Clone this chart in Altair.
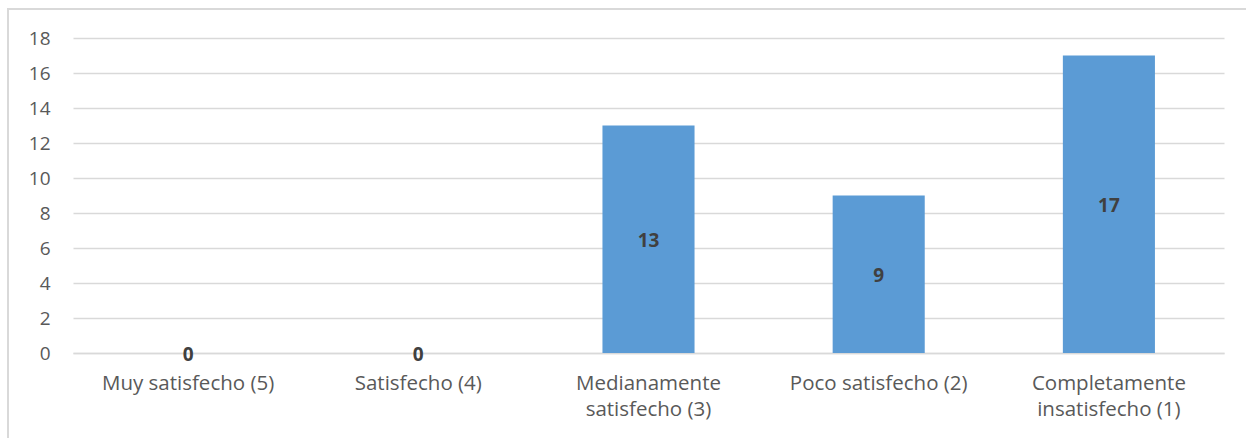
import altair as alt
import pandas as pd

categories = ["Muy satisfecho (5)", "Satisfecho (4)", "Medianamente satisfecho (3)",
              "Poco satisfecho (2)", "Completamente insatisfecho (1)"]
values = [0, 0, 13, 9, 17]
y_ticks = [0, 2, 4, 6, 8, 10, 12, 14, 16, 18]

df = pd.DataFrame({"cat": categories, "val": values, "half": [v / 2 for v in values]})

label_expr = ("datum.value == 'Medianamente satisfecho (3)' ? ['Medianamente','satisfecho (3)'] : "
              "datum.value == 'Completamente insatisfecho (1)' ? ['Completamente','insatisfecho (1)'] : datum.value")

FONT = "Open Sans"

x_axis = alt.Axis(labelAngle=0, labelFont=FONT, labelFontSize=20.5, labelColor="#595959",
                  labelExpr=label_expr, labelPadding=20, ticks=False,
                  domainColor="#d9d9d9", domainWidth=1.5, labelLineHeight=26)
y_axis = alt.Axis(values=y_ticks, labelFont=FONT, labelFontSize=19,
                  labelColor="#595959", labelPadding=23, ticks=False, domain=False,
                  gridColor="#d9d9d9", gridWidth=1.5, labelOverlap=False)
x_scale = alt.Scale(paddingInner=0.6, paddingOuter=0.3)
y_scale = alt.Scale(domain=[0, 18])

bars = alt.Chart(df).mark_bar(color="#5B9BD5").encode(
    x=alt.X("cat:N", sort=categories, title=None, scale=x_scale, axis=x_axis),
    y=alt.Y("val:Q", title=None, scale=y_scale, axis=y_axis))

text = alt.Chart(df).mark_text(font=FONT, fontSize=19, fontWeight="bold", color="#404040",
                               baseline="middle", dy=2).encode(
    x=alt.X("cat:N", sort=categories, title=None, scale=x_scale, axis=x_axis),
    y=alt.Y("half:Q", title=None, scale=y_scale, axis=y_axis),
    text="val:Q")

frame = alt.Chart(df).mark_rect(fill=None, stroke="#d9d9d9", strokeWidth=1.5).encode(
    x=alt.value(-65), x2=alt.value(1300), y=alt.value(-29), y2=alt.value(500))

chart = alt.layer(frame, bars, text).properties(
    width=1151, height=315,
    autosize=alt.AutoSizeParams(type="none"),
    padding={"left": 73, "top": 38, "right": 22, "bottom": 85},
    background="white"
).configure_view(stroke=None)

chart.save("out.html", embed_options={"renderer": "svg", "actions": False})
